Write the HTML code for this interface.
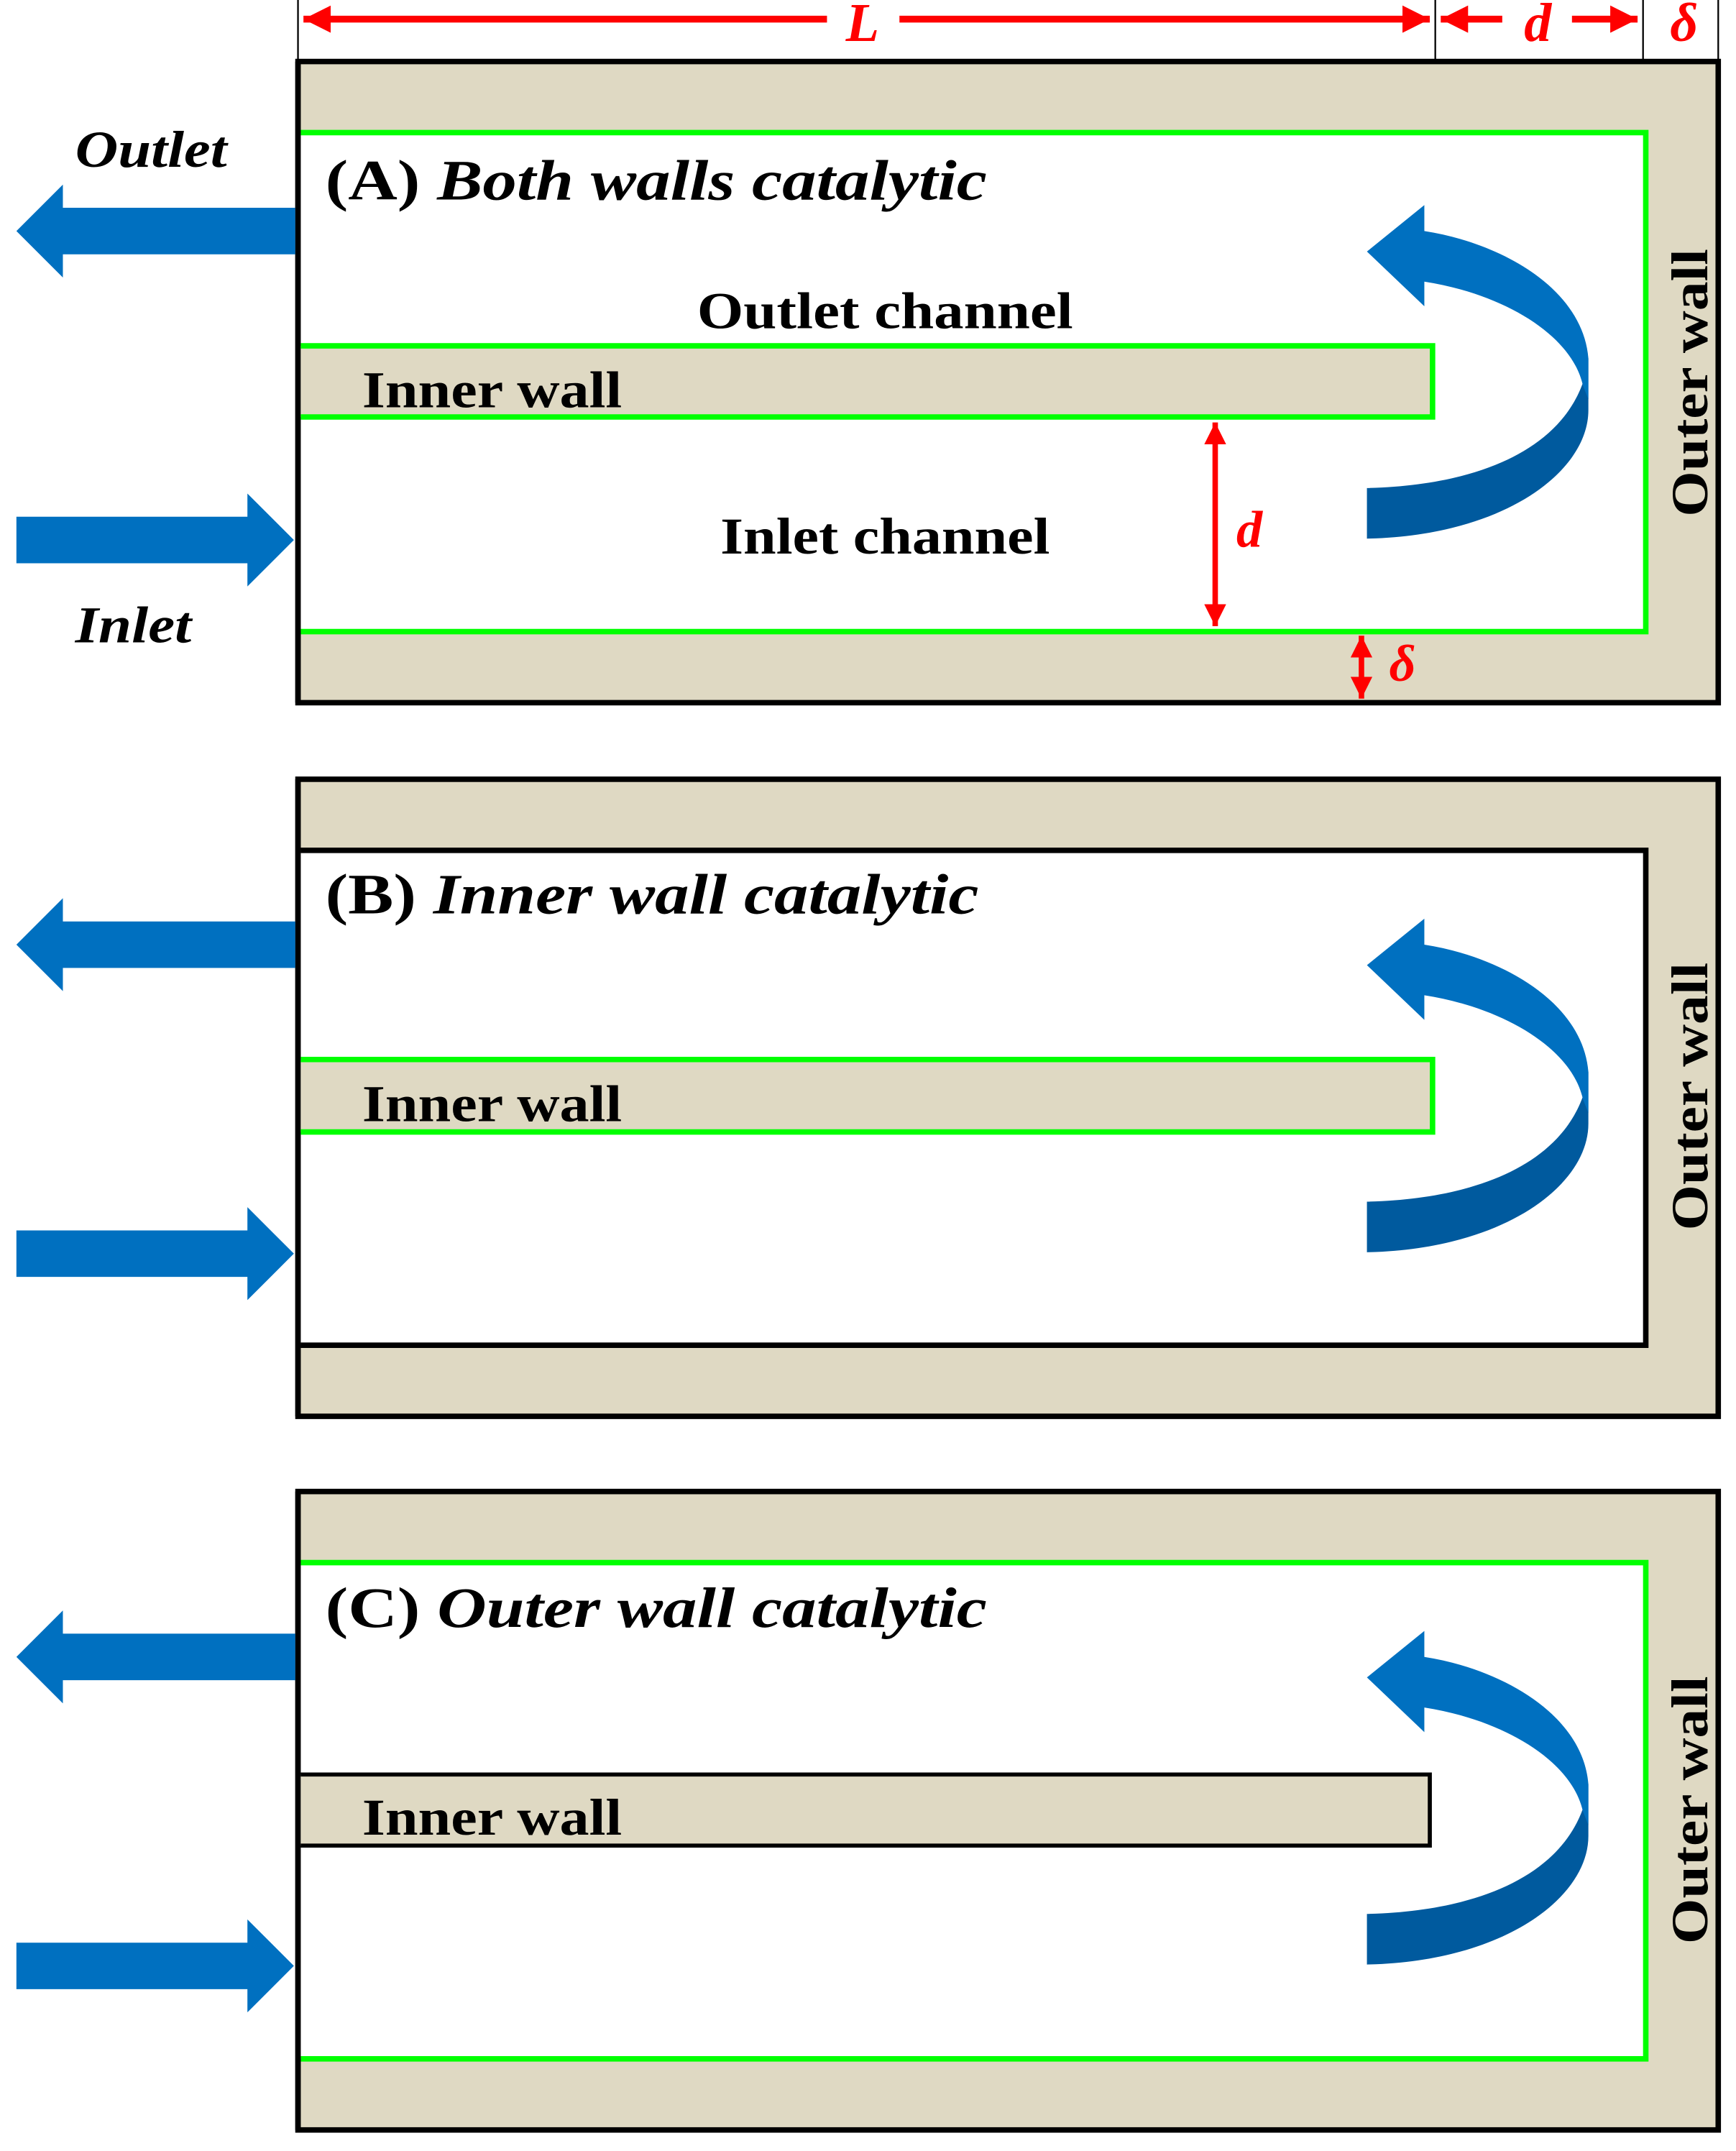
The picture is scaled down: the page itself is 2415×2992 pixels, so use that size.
<!DOCTYPE html>
<html><head><style>html,body{margin:0;padding:0;background:#fff}svg{display:block}
text{font-family:"Liberation Serif",serif;font-weight:bold}</style></head><body>
<svg width="2415" height="2992" viewBox="0 0 1270 1573.4" preserveAspectRatio="none" xmlns="http://www.w3.org/2000/svg">
<defs>
<g id="flow">
  <path d="M216,152 L46,152 L46,135 L12,169 L46,203 L46,186 L216,186 Z" fill="#0070C0"/>
  <path d="M12,378 L181,378 L181,361 L215,395 L181,429 L181,412 L12,412 Z" fill="#0070C0"/>
  <path d="M1158,280 C1140,330 1080,355 1000,357 L1000,394 C1100,392 1162,345 1162,300 L1162,262 Z" fill="#005A9E"/>
  <path d="M1042,150 L1000,184 L1042,224 L1042,206 C1100,215 1150,245 1158,282 L1162,292 L1162,262 C1158,212 1100,178 1042,169 Z" fill="#0070C0"/>
</g>
<marker id="ah" viewBox="0 0 10 10" refX="10" refY="5" markerWidth="4" markerHeight="4" orient="auto-start-reverse"><path d="M0,0 L10,5 L0,10 Z" fill="#f00"/></marker>
</defs>

<g stroke="#000" stroke-width="1.2">
<line x1="218" y1="0" x2="218" y2="45"/><line x1="1050" y1="0" x2="1050" y2="45"/>
<line x1="1202" y1="0" x2="1202" y2="45"/><line x1="1257" y1="0" x2="1257" y2="45"/>
</g>
<g stroke="#f00" stroke-width="5" fill="none">
<line x1="222" y1="14" x2="605" y2="14" marker-start="url(#ah)"/>
<line x1="658" y1="14" x2="1046" y2="14" marker-end="url(#ah)"/>
<line x1="1054" y1="14" x2="1099" y2="14" marker-start="url(#ah)"/>
<line x1="1150" y1="14" x2="1198" y2="14" marker-end="url(#ah)"/>
</g>
<text x="631" y="30" font-size="40" fill="#f00" font-style="italic" text-anchor="middle">L</text>
<text x="1125" y="30" font-size="40" fill="#f00" font-style="italic" text-anchor="middle">d</text>
<text x="1232" y="30" font-size="40" fill="#f00" font-style="italic" text-anchor="middle">δ</text>

<!-- Panel A -->
<rect x="218" y="45" width="1039" height="469" fill="#DFD9C3" stroke="#000" stroke-width="4"/>
<rect x="220" y="97" width="984" height="365" fill="#fff"/>
<path d="M220,97 L1204,97 L1204,462 L220,462" fill="none" stroke="#00FF00" stroke-width="4"/>
<line x1="218" y1="45" x2="218" y2="514" stroke="#000" stroke-width="4"/>
<rect x="220" y="253" width="828" height="52" fill="#DFD9C3"/>
<path d="M220,253 L1048,253 L1048,305 L220,305" fill="none" stroke="#00FF00" stroke-width="4"/>
<use href="#flow"/>
<text x="238" y="146" font-size="42" textLength="484" lengthAdjust="spacingAndGlyphs">(A) <tspan font-style="italic">Both walls catalytic</tspan></text>
<text x="510" y="240" font-size="38" textLength="275" lengthAdjust="spacingAndGlyphs">Outlet  channel</text>
<text x="265" y="298" font-size="38" textLength="190" lengthAdjust="spacingAndGlyphs">Inner  wall</text>
<text x="527" y="405" font-size="38" textLength="241" lengthAdjust="spacingAndGlyphs">Inlet  channel</text>
<text transform="translate(1249,378) rotate(-90)" font-size="38" textLength="196" lengthAdjust="spacingAndGlyphs">Outer  wall</text>
<text x="55" y="122" font-size="38" font-style="italic" textLength="111" lengthAdjust="spacingAndGlyphs">Outlet</text>
<text x="55" y="470" font-size="38" font-style="italic" textLength="85" lengthAdjust="spacingAndGlyphs">Inlet</text>
<g stroke="#f00" stroke-width="4" fill="none">
<line x1="889" y1="309" x2="889" y2="458" marker-start="url(#ah)" marker-end="url(#ah)"/>
<line x1="996" y1="465" x2="996" y2="511" marker-start="url(#ah)" marker-end="url(#ah)"/>
</g>
<text x="914" y="400" font-size="38" fill="#f00" font-style="italic" text-anchor="middle">d</text>
<text x="1026" y="498" font-size="38" fill="#f00" font-style="italic" text-anchor="middle">δ</text>

<!-- Panel B -->
<rect x="218" y="570" width="1039" height="466" fill="#DFD9C3" stroke="#000" stroke-width="4"/>
<rect x="220" y="622" width="984" height="362" fill="#fff"/>
<path d="M220,622 L1204,622 L1204,984 L220,984" fill="none" stroke="#000" stroke-width="4"/>
<line x1="218" y1="570" x2="218" y2="1036" stroke="#000" stroke-width="4"/>
<rect x="220" y="775" width="828" height="53" fill="#DFD9C3"/>
<path d="M220,775 L1048,775 L1048,828 L220,828" fill="none" stroke="#00FF00" stroke-width="4"/>
<use href="#flow" transform="translate(0,522)"/>
<text x="238" y="668" font-size="42" textLength="478" lengthAdjust="spacingAndGlyphs">(B) <tspan font-style="italic">Inner wall catalytic</tspan></text>
<text x="265" y="820" font-size="38" textLength="190" lengthAdjust="spacingAndGlyphs">Inner  wall</text>
<text transform="translate(1249,900) rotate(-90)" font-size="38" textLength="196" lengthAdjust="spacingAndGlyphs">Outer  wall</text>

<!-- Panel C -->
<rect x="218" y="1091" width="1039" height="467" fill="#DFD9C3" stroke="#000" stroke-width="4"/>
<rect x="220" y="1143" width="984" height="363" fill="#fff"/>
<path d="M220,1143 L1204,1143 L1204,1506 L220,1506" fill="none" stroke="#00FF00" stroke-width="4"/>
<line x1="218" y1="1091" x2="218" y2="1558" stroke="#000" stroke-width="4"/>
<rect x="220" y="1298" width="826" height="52" fill="#DFD9C3"/>
<path d="M220,1298 L1046,1298 L1046,1350 L220,1350" fill="none" stroke="#000" stroke-width="3"/>
<use href="#flow" transform="translate(0,1043)"/>
<text x="238" y="1190" font-size="42" textLength="484" lengthAdjust="spacingAndGlyphs">(C) <tspan font-style="italic">Outer wall catalytic</tspan></text>
<text x="265" y="1342" font-size="38" textLength="190" lengthAdjust="spacingAndGlyphs">Inner  wall</text>
<text transform="translate(1249,1422) rotate(-90)" font-size="38" textLength="196" lengthAdjust="spacingAndGlyphs">Outer  wall</text>
</svg>
</body></html>
